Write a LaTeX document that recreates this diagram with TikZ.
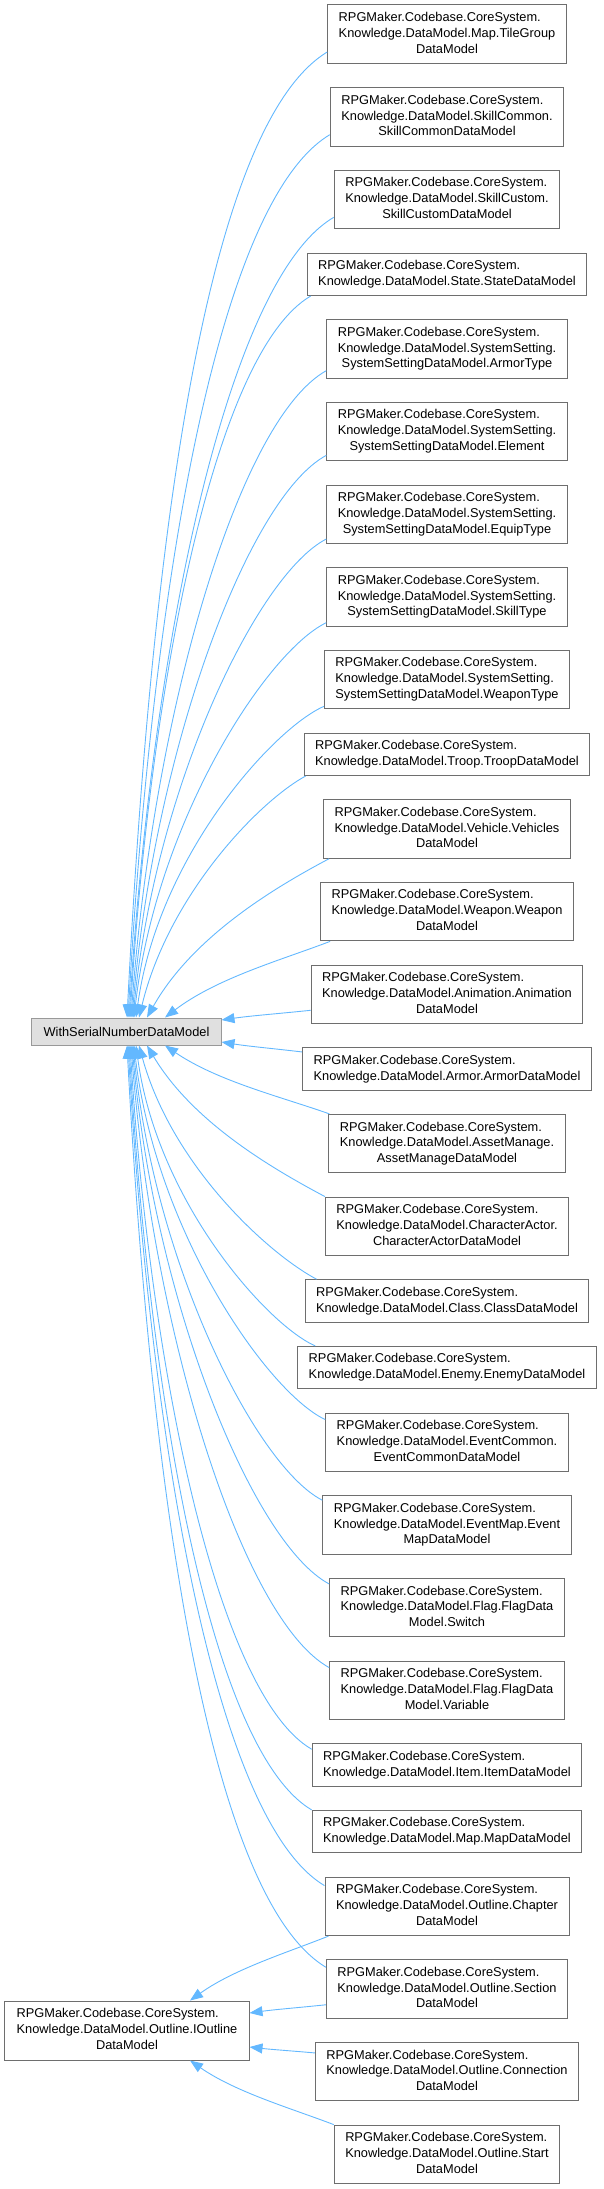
\documentclass[tikz,border=0pt]{standalone}
\usepackage{fontspec}
\setmainfont{Liberation Sans}
\usetikzlibrary{arrows.meta,calc}
\definecolor{edgeblue}{HTML}{63B8FF}
\definecolor{boxgray}{HTML}{6E6E6E}
\definecolor{wsgray}{HTML}{999999}
\definecolor{wsfill}{HTML}{E0E0E0}
\tikzset{
  cls/.style={draw=boxgray, fill=white, line width=1bp, inner xsep=11bp, inner ysep=0bp,
    font=\fontsize{12.8bp}{15.8bp}\selectfont, text=black},
  inh/.style={draw=edgeblue, line width=0.9bp, >={Triangle[length=13bp,width=10bp]}, <-}
}
\newcommand{\boxthree}[4]{\node[cls, minimum height=58.5bp] (#1) at (447,#2)
  {\begin{tabular}{@{}l@{}}RPGMaker.Codebase.CoreSystem.\\#3\\\multicolumn{1}{@{}c@{}}{#4}\end{tabular}};}
\newcommand{\boxtwo}[3]{\node[cls, minimum height=42.5bp] (#1) at (447,#2)
  {\begin{tabular}{@{}l@{}}RPGMaker.Codebase.CoreSystem.\\#3\end{tabular}};}
\newcommand{\inh}[3]{%
  \draw[inh] let \p1=#1, \p2=#2,
    \n1={abs(\y2-\y1)},
    \n2={atan2(\n1,abs(\x2-\x1))},
    \n3={0.6*min(1,\n1/300)},
    \n4={\n2+(90-\n2)*1.25*\n3},
    \n5={\n2*(1-\n3)},
    \n6={veclen(\x2-\x1,\y2-\y1)},
    \n7={\n6*(0.33+0.2*\n3)},
    \n8={\n6*(0.33-0.3*\n3)}
  in (\p1) .. controls ({\x1+\n7*cos(\n4)},{\y1+(#3)*\n7*sin(\n4)})
     and ({\x2-\n8*cos(\n5)},{\y2-(#3)*\n8*sin(\n5)}) .. (\p2);}
\begin{document}
\begin{tikzpicture}[x=1bp,y=-1bp]
\useasboundingbox (0,0) rectangle (604,2189);
\node[cls, draw=wsgray, fill=wsfill, minimum width=189bp, minimum height=27bp] (WS) at (126.5,1031.5) {WithSerialNumberDataModel};
\node[cls, minimum width=244bp, minimum height=59bp] (IO) at (127,2030.5)
  {\begin{tabular}{@{}l@{}}RPGMaker.Codebase.CoreSystem.\\Knowledge.DataModel.Outline.IOutline\\\multicolumn{1}{@{}c@{}}{DataModel}\end{tabular}};
\boxthree{n1}{34.25}{Knowledge.DataModel.Map.TileGroup}{DataModel}
\boxthree{n2}{116.92}{Knowledge.DataModel.SkillCommon.}{SkillCommonDataModel}
\boxthree{n3}{199.59}{Knowledge.DataModel.SkillCustom.}{SkillCustomDataModel}
\boxtwo{n4}{274.26}{Knowledge.DataModel.State.StateDataModel}
\boxthree{n5}{348.93}{Knowledge.DataModel.SystemSetting.}{SystemSettingDataModel.ArmorType}
\boxthree{n6}{431.60}{Knowledge.DataModel.SystemSetting.}{SystemSettingDataModel.Element}
\boxthree{n7}{514.27}{Knowledge.DataModel.SystemSetting.}{SystemSettingDataModel.EquipType}
\boxthree{n8}{596.94}{Knowledge.DataModel.SystemSetting.}{SystemSettingDataModel.SkillType}
\boxthree{n9}{679.61}{Knowledge.DataModel.SystemSetting.}{SystemSettingDataModel.WeaponType}
\boxtwo{n10}{754.28}{Knowledge.DataModel.Troop.TroopDataModel}
\boxthree{n11}{828.95}{Knowledge.DataModel.Vehicle.Vehicles}{DataModel}
\boxthree{n12}{911.62}{Knowledge.DataModel.Weapon.Weapon}{DataModel}
\boxthree{n13}{994.29}{Knowledge.DataModel.Animation.Animation}{DataModel}
\boxtwo{n14}{1068.96}{Knowledge.DataModel.Armor.ArmorDataModel}
\boxthree{n15}{1143.63}{Knowledge.DataModel.AssetManage.}{AssetManageDataModel}
\boxthree{n16}{1226.30}{Knowledge.DataModel.CharacterActor.}{CharacterActorDataModel}
\boxtwo{n17}{1300.97}{Knowledge.DataModel.Class.ClassDataModel}
\boxtwo{n18}{1367.64}{Knowledge.DataModel.Enemy.EnemyDataModel}
\boxthree{n19}{1442.31}{Knowledge.DataModel.EventCommon.}{EventCommonDataModel}
\boxthree{n20}{1524.98}{Knowledge.DataModel.EventMap.Event}{MapDataModel}
\boxthree{n21}{1607.65}{Knowledge.DataModel.Flag.FlagData}{Model.Switch}
\boxthree{n22}{1690.32}{Knowledge.DataModel.Flag.FlagData}{Model.Variable}
\boxtwo{n23}{1764.99}{Knowledge.DataModel.Item.ItemDataModel}
\boxtwo{n24}{1831.66}{Knowledge.DataModel.Map.MapDataModel}
\boxthree{n25}{1906.33}{Knowledge.DataModel.Outline.Chapter}{DataModel}
\boxthree{n26}{1989.00}{Knowledge.DataModel.Outline.Section}{DataModel}
\boxthree{n27}{2071.67}{Knowledge.DataModel.Outline.Connection}{DataModel}
\boxthree{n28}{2154.34}{Knowledge.DataModel.Outline.Start}{DataModel}
% edges to WithSerialNumberDataModel
\inh{([xshift=0.5bp]WS.north)}{([yshift=12bp]n1.south west)}{1}
\inh{([xshift=1.5bp]WS.north)}{([yshift=12bp]n2.south west)}{1}
\inh{([xshift=2.5bp]WS.north)}{([yshift=12bp]n3.south west)}{1}
\inh{([xshift=3.5bp]WS.north)}{([xshift=4bp]n4.south west)}{1}
\inh{([xshift=4.5bp]WS.north)}{([yshift=8bp]n5.south west)}{1}
\inh{([xshift=5.5bp]WS.north)}{([yshift=6bp]n6.south west)}{1}
\inh{([xshift=6.5bp]WS.north)}{([yshift=5bp]n7.south west)}{1}
\inh{([xshift=7.5bp]WS.north)}{([yshift=4bp]n8.south west)}{1}
\inh{([xshift=9.5bp]WS.north)}{([yshift=3bp]n9.south west)}{1}
\inh{([xshift=12.5bp]WS.north)}{([xshift=2bp]n10.south west)}{1}
\inh{([xshift=20.5bp]WS.north)}{([xshift=6bp]n11.south west)}{1}
\inh{([xshift=38.5bp]WS.north)}{([xshift=10bp]n12.south west)}{1}
\inh{([yshift=11.5bp]WS.east)}{([yshift=-16bp]n13.west)}{1}
\inh{([yshift=-10.5bp]WS.east)}{([yshift=17bp]n14.west)}{-1}
\inh{([xshift=38.5bp]WS.south)}{([xshift=1bp]n15.north west)}{-1}
\inh{([xshift=20.5bp]WS.south)}{(n16.north west)}{-1}
\inh{([xshift=12.5bp]WS.south)}{([xshift=12bp]n17.north west)}{-1}
\inh{([xshift=9.5bp]WS.south)}{([xshift=18bp]n18.north west)}{-1}
\inh{([xshift=7.5bp]WS.south)}{([yshift=-7bp]n19.north west)}{-1}
\inh{([xshift=6.5bp]WS.south)}{([yshift=-5bp]n20.north west)}{-1}
\inh{([xshift=5.5bp]WS.south)}{([yshift=-6bp]n21.north west)}{-1}
\inh{([xshift=4.5bp]WS.south)}{([yshift=-7bp]n22.north west)}{-1}
\inh{([xshift=3.5bp]WS.south)}{([yshift=-6bp]n23.north west)}{-1}
\inh{([xshift=2.5bp]WS.south)}{(n24.north west)}{-1}
\inh{([xshift=1.5bp]WS.south)}{([yshift=-9bp]n25.north west)}{-1}
\inh{([xshift=0.5bp]WS.south)}{([yshift=-8bp]n26.north west)}{-1}
% edges to IOutlineDataModel
\inh{([xshift=63bp]IO.north)}{([xshift=4bp]n25.south west)}{1}
\inh{([yshift=17.5bp]IO.east)}{([yshift=14bp]n26.south west)}{1}
\inh{([yshift=-16.5bp]IO.east)}{([yshift=-11bp]n27.north west)}{-1}
\inh{([xshift=63bp]IO.south)}{(n28.north west)}{-1}
\end{tikzpicture}
\end{document}
